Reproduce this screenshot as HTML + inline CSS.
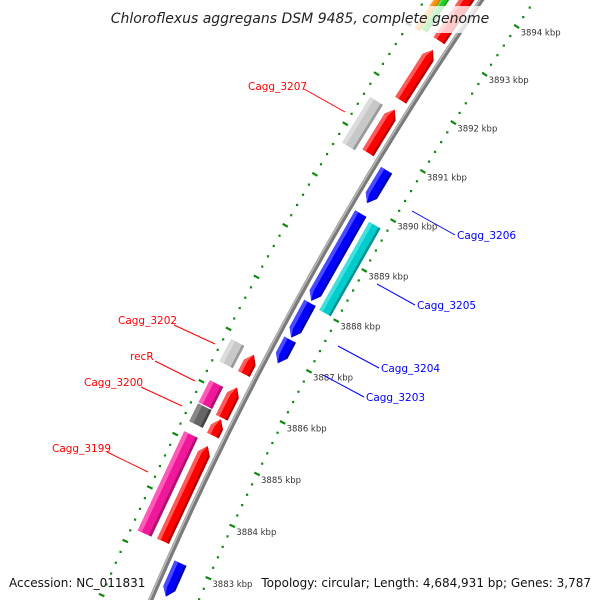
<!DOCTYPE html>
<html><head><meta charset="utf-8"><style>
html,body{margin:0;padding:0;background:#fff;width:600px;height:600px;overflow:hidden;}
svg{display:block;font-family:"DejaVu Sans","Liberation Sans",sans-serif;overflow:hidden;}
</style></head><body>
<svg id="chart" width="600" height="600" viewBox="0 0 600 600" xmlns="http://www.w3.org/2000/svg">
<g id="rings"></g>
<g id="backbone"></g>
<g id="features"></g>
<g id="ticklabels"></g>
<rect x="108" y="6" width="384" height="27" fill="#fff" fill-opacity="0.78"/>
<text x="300" y="23" text-anchor="middle" font-size="14" font-style="italic" fill="#222">Chloroflexus aggregans DSM 9485, complete genome</text>
<g font-size="10.5">
<g fill="#ff0000" stroke="none">
<text x="248" y="90">Cagg_3207</text>
<text x="118" y="324">Cagg_3202</text>
<text x="130" y="360">recR</text>
<text x="84" y="386">Cagg_3200</text>
<text x="52" y="452">Cagg_3199</text>
</g>
<g stroke="#ff0000" stroke-width="1">
<line x1="304" y1="89" x2="345" y2="112"/>
<line x1="174" y1="325" x2="215" y2="344"/>
<line x1="155" y1="361" x2="195" y2="381"/>
<line x1="141" y1="387" x2="182" y2="406"/>
<line x1="107" y1="452" x2="148" y2="472"/>
</g>
<g fill="#0000ff">
<text x="457" y="239">Cagg_3206</text>
<text x="417" y="309">Cagg_3205</text>
<text x="381" y="372">Cagg_3204</text>
<text x="366" y="401">Cagg_3203</text>
</g>
<g stroke="#0000ff" stroke-width="1">
<line x1="412" y1="211" x2="455" y2="235"/>
<line x1="377" y1="284" x2="415" y2="305"/>
<line x1="338" y1="346" x2="379" y2="368"/>
<line x1="323" y1="375" x2="364" y2="397"/>
</g>
</g>
<text x="9" y="587" font-size="12" fill="#111">Accession: NC_011831</text>
<text x="591" y="587" text-anchor="end" font-size="12" fill="#111">Topology: circular; Length: 4,684,931 bp; Genes: 3,787</text>
</svg>
<script>
// data
const tickKbp = [3883,3884,3885,3886,3887,3888,3889,3890,3891,3892,3893,3894];
const tickLabels = ["3883 kbp","3884 kbp","3885 kbp","3886 kbp","3887 kbp","3888 kbp","3889 kbp","3890 kbp","3891 kbp","3892 kbp","3893 kbp","3894 kbp"];
const featureNames = ["Cagg_3199b","red-a","red-b","red-c","red-d","red-e","red-f",
  "blue-0","blue-a","Cagg_3203","Cagg_3204","blue-long","Cagg_3206","Cagg_3205",
  "Cagg_3199","Cagg_3200","recR","Cagg_3202","Cagg_3207","orange-top","green-top"];
const featureStarts = [3883.26,3885.26,3885.60,3886.44,3890.78,3891.84,3893.05,
  3881.5,3882.41,3886.87,3887.37,3888.09,3890.03,3888.02,
  3883.25,3885.30,3885.66,3886.44,3890.70,3893.0,3893.05];
const featureEnds = [3885.06,3885.57,3886.18,3886.81,3891.65,3892.86,3894.8,
  3882.30,3883.04,3887.33,3888.05,3889.82,3890.69,3889.77,
  3885.11,3885.64,3886.08,3886.87,3891.61,3894.8,3894.8];
const featureTypes = ["rev","rev","rev","rev","rev","rev","rev",
  "fwd","fwd","fwd","fwd","fwd","fwd","fwdOuter",
  "pink","dgrey","pink","lgrey","lgrey","orange","green"];

// geometry (axis functions)
const CX = 3451, CY = 2028, R = 3596, A0 = 204.09, DEG_PER_KB = 0.928;
function pt(kb, off){
  const t = (A0 + (kb - 3883) * DEG_PER_KB) * Math.PI / 180;
  const r = R - off;
  return [CX + r*Math.cos(t), CY + r*Math.sin(t)];
}
const NS = "http://www.w3.org/2000/svg";
function mk(tag, attrs, parent){
  const e = document.createElementNS(NS, tag);
  for (const k in attrs) e.setAttribute(k, attrs[k]);
  parent.appendChild(e); return e;
}
const styles = {
  rev:{o1:-19,o2:-6,fill:"#ff0000",light:"#ff5a5a",dark:"#b30000",dir:1},
  fwd:{o1:6,o2:19,fill:"#0000ff",light:"#4a4aff",dark:"#0000a8",dir:-1},
  fwdOuter:{o1:24,o2:37,fill:"#00cccc",light:"#40e0e0",dark:"#009090",dir:0},
  pink:{o1:-40,o2:-25,fill:"#f0189a",light:"#ff5ab8",dark:"#b0106f",dir:0},
  dgrey:{o1:-40,o2:-25,fill:"#666666",light:"#888",dark:"#444",dir:0},
  lgrey:{o1:-40,o2:-25,fill:"#c8c8c8",light:"#dcdcdc",dark:"#9a9a9a",dir:0},
  orange:{o1:-40,o2:-34,fill:"#ff8c00",light:"#ffa640",dark:"#cc7000",dir:0},
  green:{o1:-34,o2:-27,fill:"#22cc22",light:"#55dd55",dark:"#119911",dir:0}
};
const HEAD = 0.15;
function polyStr(arr){ return arr.map(p=>p[0].toFixed(1)+","+p[1].toFixed(1)).join(" "); }

// tick rings
const rings = document.getElementById("rings");
[44,-47].forEach(function(off){
  for (let k = 3880.6; k <= 3895.6; k += 0.2){
    const kk = Math.round(k*10)/10;
    const major = Math.abs(kk - Math.round(kk)) < 0.01;
    if (major){
      const a = pt(kk, off-3), b = pt(kk, off+3);
      const l = mk("line",{x1:a[0],y1:a[1],x2:b[0],y2:b[1],stroke:"#118811","stroke-width":2.2},rings);
      
      
    } else {
      const a = pt(kk, off);
      const r = mk("rect",{x:a[0]-1,y:a[1]-1,width:2.2,height:2.2,fill:"#118811"},rings);
      
      
    }
  }
});

// backbone
const bb = document.getElementById("backbone");
let pathPts = [];
for (let k = 3881.5; k <= 3895.5; k += 0.5) pathPts.push(pt(k,0));
const bp1 = mk("polyline",{points:polyStr(pathPts),fill:"none",stroke:"#7a7a7a","stroke-width":5},bb);


let pathPts2 = [];
for (let k = 3881.5; k <= 3895.5; k += 0.5) pathPts2.push(pt(k,-1.3));
const bp2 = mk("polyline",{points:polyStr(pathPts2),fill:"none",stroke:"#b8b8b8","stroke-width":1.6},bb);



// features
const fg = document.getElementById("features");
function shape(s, e, o1, o2, dir, mid){
  const pts = [];
  if (dir === 1){
    const h = Math.min(HEAD, (e-s)*0.6);
    pts.push(pt(s,o1), pt(e-h,o1), pt(e,mid), pt(e-h,o2), pt(s,o2));
  } else if (dir === -1){
    const h = Math.min(HEAD, (e-s)*0.6);
    pts.push(pt(e,o1), pt(s+h,o1), pt(s,mid), pt(s+h,o2), pt(e,o2));
  } else {
    pts.push(pt(s,o1), pt(e,o1), pt(e,o2), pt(s,o2));
  }
  return pts;
}
for (let i = 0; i < featureNames.length; i++){
  const st = styles[featureTypes[i]];
  const s = featureStarts[i], e = featureEnds[i];
  const mid = (st.o1 + st.o2)/2;
  const g = mk("g",{},fg);
  
  
  const main = mk("polygon",{points:polyStr(shape(s,e,st.o1,st.o2,st.dir,mid)),fill:st.fill},g);
  
  
  const w = st.o2 - st.o1;
  const lt = mk("polygon",{points:polyStr(shape(s,e,st.o1,st.o1+w*0.3,st.dir,mid)),fill:st.light},g);
  
  
  const dk = mk("polygon",{points:polyStr(shape(s,e,st.o2-w*0.18,st.o2,st.dir,mid)),fill:st.dark},g);
  
  
}

// tick labels
const tl = document.getElementById("ticklabels");
for (let i = 0; i < tickKbp.length; i++){
  const p = pt(tickKbp[i], 44);
  const t = mk("text",{x:(p[0]+4).toFixed(1),y:(p[1]+9).toFixed(1),"font-size":8.5,fill:"#333"},tl);
  
  
  t.textContent = tickLabels[i];
}
</script>
</body></html>
